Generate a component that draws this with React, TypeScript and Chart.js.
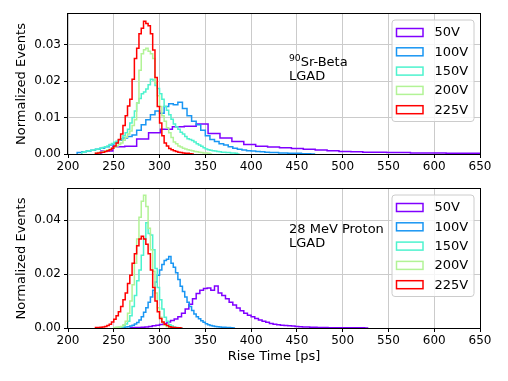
import React, { useEffect, useRef } from "react";
import { Chart, registerables } from "chart.js";
Chart.register(...registerables);

const VOLTAGES = ["50V", "100V", "150V", "200V", "225V"];
const COLORS = ["#8000ff", "#1996f3", "#4df3ce", "#b2f396", "#ff0000"];
const X_TICKS = [200, 250, 300, 350, 400, 450, 500, 550, 600, 650];

// ---------- 90Sr-Beta panel (bin start, bin width, normalized counts) ----------
const SR_50V_START = 236, SR_50V_WIDTH = 13;
const SR_50V = [0.0002, 0.0008, 0.0020, 0.0021, 0.0041, 0.0058, 0.0068, 0.0075, 0.0076, 0.0082, 0.0056, 0.0044, 0.0034, 0.0026, 0.0021, 0.0019, 0.0017, 0.0015, 0.0013, 0.0011, 0.0009, 0.0007, 0.0006, 0.0005, 0.0005, 0.0004, 0.0004, 0.0003, 0.0003, 0.0003, 0.0002, 0.0002, 0.0002];

const SR_100V_START = 210, SR_100V_WIDTH = 5;
const SR_100V = [0.0003, 0.0004, 0.0006, 0.0008, 0.0010, 0.0013, 0.0016, 0.0020, 0.0025, 0.0031, 0.0038, 0.0044, 0.0048, 0.0052, 0.0065, 0.0080, 0.0094, 0.0108, 0.0118, 0.0112, 0.0130, 0.0138, 0.0135, 0.0142, 0.0125, 0.0105, 0.0090, 0.0080, 0.0065, 0.0050, 0.0040, 0.0034, 0.0028, 0.0025, 0.0020, 0.0016, 0.0013, 0.0011, 0.0009, 0.0008, 0.0007, 0.0006, 0.0005, 0.0004, 0.0004, 0.0003, 0.0003, 0.0002, 0.0002, 0.0002, 0.0001, 0.0001];

const SR_150V_START = 215, SR_150V_WIDTH = 2.5;
const SR_150V = [0.0004, 0.0005, 0.0006, 0.0008, 0.0009, 0.0010, 0.0011, 0.0013, 0.0014, 0.0016, 0.0018, 0.0020, 0.0022, 0.0026, 0.0029, 0.0032, 0.0035, 0.0038, 0.0042, 0.0050, 0.0058, 0.0068, 0.0085, 0.0100, 0.0118, 0.0140, 0.0152, 0.0165, 0.0170, 0.0178, 0.0190, 0.0205, 0.0203, 0.0188, 0.0180, 0.0165, 0.0150, 0.0130, 0.0120, 0.0108, 0.0095, 0.0082, 0.0075, 0.0068, 0.0060, 0.0055, 0.0048, 0.0042, 0.0040, 0.0037, 0.0033, 0.0028, 0.0025, 0.0021, 0.0017, 0.0014, 0.0012, 0.0010, 0.0009, 0.0008, 0.0007, 0.0006, 0.0005, 0.0005, 0.0004, 0.0004, 0.0003, 0.0003, 0.0002];

const SR_200V_START = 230, SR_200V_WIDTH = 2.5;
const SR_200V = [0.0002, 0.0003, 0.0004, 0.0005, 0.0007, 0.0009, 0.0011, 0.0013, 0.0016, 0.0019, 0.0022, 0.0026, 0.0030, 0.0038, 0.0046, 0.0055, 0.0063, 0.0078, 0.0094, 0.0140, 0.0230, 0.0275, 0.0286, 0.0290, 0.0282, 0.0275, 0.0262, 0.0195, 0.0160, 0.0130, 0.0105, 0.0090, 0.0072, 0.0058, 0.0045, 0.0033, 0.0028, 0.0022, 0.0019, 0.0016, 0.0014, 0.0012, 0.0010, 0.0009, 0.0007, 0.0006, 0.0005, 0.0004, 0.0003, 0.0003, 0.0002];

const SR_225V_START = 230, SR_225V_WIDTH = 2.5;
const SR_225V = [0.0001, 0.0002, 0.0003, 0.0004, 0.0005, 0.0007, 0.0009, 0.0012, 0.0016, 0.0022, 0.0030, 0.0040, 0.0055, 0.0078, 0.0105, 0.0132, 0.0150, 0.0205, 0.0262, 0.0290, 0.0330, 0.0345, 0.0364, 0.0358, 0.0352, 0.0330, 0.0285, 0.0210, 0.0130, 0.0085, 0.0050, 0.0030, 0.0022, 0.0015, 0.0012, 0.0009, 0.0007, 0.0005, 0.0004, 0.0003, 0.0002, 0.0002, 0.0001];

// ---------- 28 MeV Proton panel ----------
const P_50V_START = 268, P_50V_WIDTH = 4;
const P_50V = [0.0001, 0.0001, 0.0002, 0.0002, 0.0003, 0.0004, 0.0006, 0.0008, 0.0010, 0.0013, 0.0017, 0.0022, 0.0028, 0.0033, 0.0042, 0.0055, 0.0070, 0.0088, 0.0108, 0.0128, 0.0140, 0.0146, 0.0148, 0.0140, 0.0156, 0.0130, 0.0120, 0.0108, 0.0095, 0.0085, 0.0074, 0.0064, 0.0055, 0.0047, 0.0042, 0.0035, 0.0030, 0.0025, 0.0021, 0.0017, 0.0014, 0.0012, 0.0010, 0.0009, 0.0008, 0.0007, 0.0006, 0.0005, 0.0004, 0.0004, 0.0003, 0.0003, 0.0002, 0.0002, 0.0002, 0.0001, 0.0001, 0.0001, 0.0001, 0.0001, 0.0001, 0.0001, 0.0001, 0.0001, 0.0001];

const P_100V_START = 255, P_100V_WIDTH = 2.5;
const P_100V = [0.0001, 0.0001, 0.0002, 0.0003, 0.0004, 0.0005, 0.0007, 0.0010, 0.0015, 0.0020, 0.0030, 0.0042, 0.0058, 0.0075, 0.0095, 0.0115, 0.0140, 0.0170, 0.0195, 0.0215, 0.0235, 0.0250, 0.0255, 0.0265, 0.0240, 0.0225, 0.0205, 0.0180, 0.0155, 0.0135, 0.0115, 0.0095, 0.0080, 0.0065, 0.0052, 0.0042, 0.0034, 0.0027, 0.0021, 0.0016, 0.0012, 0.0009, 0.0007, 0.0006, 0.0005, 0.0004, 0.0003, 0.0003, 0.0002, 0.0002, 0.0001];

const P_150V_START = 250, P_150V_WIDTH = 2.5;
const P_150V = [0.0001, 0.0001, 0.0002, 0.0003, 0.0005, 0.0008, 0.0015, 0.0025, 0.0045, 0.0080, 0.0120, 0.0175, 0.0215, 0.0270, 0.0330, 0.0390, 0.0350, 0.0345, 0.0290, 0.0220, 0.0150, 0.0105, 0.0070, 0.0040, 0.0025, 0.0012, 0.0007, 0.0004, 0.0002, 0.0001];

const P_200V_START = 250, P_200V_WIDTH = 2.5;
const P_200V = [0.0001, 0.0002, 0.0003, 0.0004, 0.0006, 0.0012, 0.0025, 0.0055, 0.0100, 0.0160, 0.0240, 0.0330, 0.0410, 0.0470, 0.0492, 0.0450, 0.0370, 0.0290, 0.0210, 0.0130, 0.0075, 0.0040, 0.0020, 0.0010, 0.0005, 0.0003, 0.0002, 0.0001];

const P_225V_START = 230, P_225V_WIDTH = 2.5;
const P_225V = [0.0001, 0.0002, 0.0002, 0.0003, 0.0004, 0.0006, 0.0009, 0.0014, 0.0022, 0.0032, 0.0045, 0.0060, 0.0080, 0.0105, 0.0130, 0.0165, 0.0195, 0.0240, 0.0275, 0.0305, 0.0330, 0.0340, 0.0330, 0.0310, 0.0275, 0.0215, 0.0150, 0.0100, 0.0060, 0.0035, 0.0022, 0.0014, 0.0009, 0.0005, 0.0003, 0.0002, 0.0001, 0.0001];

const SR_NOTE = [[{ t: "90", sup: true }, { t: "Sr-Beta" }], [{ t: "LGAD" }]];
const P_NOTE = [[{ t: "28 MeV Proton" }], [{ t: "LGAD" }]];

type Hist = [number, number, number[]];
const SR_SERIES: Hist[] = [
  [SR_50V_START, SR_50V_WIDTH, SR_50V],
  [SR_100V_START, SR_100V_WIDTH, SR_100V],
  [SR_150V_START, SR_150V_WIDTH, SR_150V],
  [SR_200V_START, SR_200V_WIDTH, SR_200V],
  [SR_225V_START, SR_225V_WIDTH, SR_225V],
];
const P_SERIES: Hist[] = [
  [P_50V_START, P_50V_WIDTH, P_50V],
  [P_100V_START, P_100V_WIDTH, P_100V],
  [P_150V_START, P_150V_WIDTH, P_150V],
  [P_200V_START, P_200V_WIDTH, P_200V],
  [P_225V_START, P_225V_WIDTH, P_225V],
];

const FAMILY = "'DejaVu Sans', sans-serif";

function histPoints(start: number, width: number, values: number[]) {
  const pts = [{ x: start, y: 0 }];
  values.forEach((v, i) => pts.push({ x: start + i * width, y: v }));
  pts.push({ x: start + values.length * width, y: 0 });
  return pts;
}

const decorPlugin = {
  id: "decor",
  afterDraw(chart: any, _args: any, opts: any) {
    const { ctx, chartArea: a } = chart;
    ctx.save();
    // frame
    ctx.strokeStyle = "#000";
    ctx.lineWidth = 1;
    ctx.strokeRect(Math.round(a.left) - 0.5, Math.round(a.top) - 0.5, Math.round(a.right - a.left) + 1, Math.round(a.bottom - a.top) + 1);
    // annotation text
    ctx.fillStyle = "#000";
    ctx.textBaseline = "alphabetic";
    ctx.textAlign = "left";
    opts.note.forEach((line: any[], li: number) => {
      let x = a.left + opts.noteX;
      const y = a.top + opts.noteY + li * opts.noteGap;
      line.forEach((p: any) => {
        if (p.sup) {
          ctx.font = `9.2px ${FAMILY}`;
          ctx.fillText(p.t, x, y - 5.5);
        } else {
          ctx.font = `13px ${FAMILY}`;
          ctx.fillText(p.t, x, y);
        }
        x += ctx.measureText(p.t).width;
      });
    });
    // legend
    const w = 82, h = 101.5, r = 3;
    const lx = a.right - 6 - w, ly = a.top + 6;
    ctx.beginPath();
    ctx.moveTo(lx + r, ly);
    ctx.arcTo(lx + w, ly, lx + w, ly + h, r);
    ctx.arcTo(lx + w, ly + h, lx, ly + h, r);
    ctx.arcTo(lx, ly + h, lx, ly, r);
    ctx.arcTo(lx, ly, lx + w, ly, r);
    ctx.closePath();
    ctx.fillStyle = "rgba(255,255,255,0.8)";
    ctx.fill();
    ctx.strokeStyle = "#cccccc";
    ctx.lineWidth = 1;
    ctx.stroke();
    ctx.font = `13px ${FAMILY}`;
    ctx.textBaseline = "middle";
    chart.data.datasets.forEach((ds: any, i: number) => {
      const cy = ly + 12.5 + i * 19.3;
      ctx.strokeStyle = ds.borderColor;
      ctx.lineWidth = 1.5;
      ctx.strokeRect(lx + 4.5, cy - 4, 26.5, 8);
      ctx.fillStyle = "#000";
      ctx.fillText(ds.label, lx + 42.5, cy + 0.5);
    });
    ctx.restore();
  },
};

function makeChart(canvas: HTMLCanvasElement, series: Hist[], cfg: any) {
  const tickFont = { family: FAMILY, size: 12 };
  const titleFont = { family: FAMILY, size: 13 };
  return new Chart(canvas, {
    type: "line",
    data: {
      datasets: series.map(([s, w, v], i) => ({
        label: VOLTAGES[i],
        data: histPoints(s, w, v),
        borderColor: COLORS[i],
        borderWidth: 1.5,
        stepped: "after",
        pointRadius: 0,
        fill: false,
        order: 5 - i,
      })),
    } as any,
    options: {
      animation: false,
      responsive: false,
      events: [],
      layout: { padding: { left: 0, right: 28, top: cfg.padTop, bottom: 0 } },
      plugins: {
        legend: { display: false },
        tooltip: { enabled: false },
        decor: { note: cfg.note, noteX: cfg.noteX, noteY: cfg.noteY, noteGap: cfg.noteGap },
      } as any,
      scales: {
        x: {
          type: "linear",
          min: X_TICKS[0],
          max: X_TICKS[X_TICKS.length - 1],
          afterBuildTicks: (s: any) => {
            s.ticks = X_TICKS.map((v) => ({ value: v }));
          },
          ticks: { font: tickFont, color: "#000", padding: 2, maxRotation: 0, autoSkip: false },
          grid: { color: "#cbcbcb", lineWidth: 1, tickLength: 4, tickColor: "#000", tickWidth: 1 },
          border: { display: false },
          title: {
            display: cfg.xTitle,
            text: "Rise Time [ps]",
            font: titleFont,
            color: "#000",
            padding: { top: 0, bottom: 16.7 },
          },
          afterFit: (s: any) => {
            s.height = cfg.xHeight;
          },
        },
        y: {
          type: "linear",
          min: 0,
          max: cfg.yMax,
          afterBuildTicks: (s: any) => {
            s.ticks = cfg.yTicks.map((v: number) => ({ value: v }));
          },
          ticks: { font: tickFont, color: "#000", padding: 3, callback: (v: any) => Number(v).toFixed(2) },
          grid: { color: "#cbcbcb", lineWidth: 1, tickLength: 4, tickColor: "#000", tickWidth: 1 },
          border: { display: false },
          title: {
            display: true,
            text: "Normalized Events",
            font: titleFont,
            color: "#000",
            padding: { top: 13.5, bottom: 0 },
          },
          afterFit: (s: any) => {
            s.width = 68;
          },
        },
      },
    } as any,
    plugins: [decorPlugin],
  });
}

const SR_Y_TICKS = [0, 0.01, 0.02, 0.03];
const P_Y_TICKS = [0, 0.02, 0.04];

export default function App() {
  const topRef = useRef<HTMLCanvasElement>(null);
  const botRef = useRef<HTMLCanvasElement>(null);
  useEffect(() => {
    const c1 = makeChart(topRef.current!, SR_SERIES, {
      padTop: 14, xHeight: 24, xTitle: false, yMax: 0.0384, yTicks: SR_Y_TICKS,
      note: SR_NOTE, noteX: 221, noteY: 52, noteGap: 14,
    });
    const c2 = makeChart(botRef.current!, P_SERIES, {
      padTop: 11, xHeight: 53, xTitle: true, yMax: 0.0515, yTicks: P_Y_TICKS,
      note: P_NOTE, noteX: 221, noteY: 43.7, noteGap: 14.3,
    });
    return () => {
      c1.destroy();
      c2.destroy();
    };
  }, []);
  return (
    <div style={{ position: "absolute", left: 0, top: 0, width: 508, height: 381, background: "#fff" }}>
      <canvas ref={topRef} width={508} height={178} style={{ position: "absolute", left: 0, top: 0, display: "block" }} />
      <canvas ref={botRef} width={508} height={203} style={{ position: "absolute", left: 0, top: 178, display: "block" }} />
    </div>
  );
}
